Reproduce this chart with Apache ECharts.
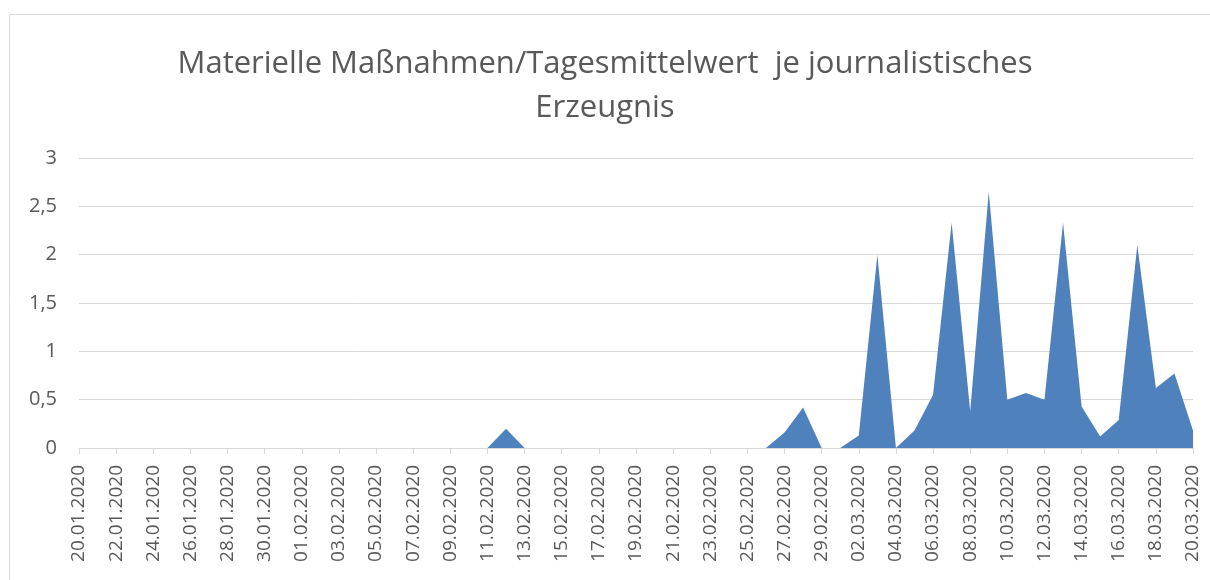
<!DOCTYPE html>
<html>
<head>
<meta charset="utf-8">
<script src="https://cdn.jsdelivr.net/npm/echarts@6/dist/echarts.min.js"></script>
<style>
  html, body { margin: 0; padding: 0; background: #fff; }
  #chart { width: 1210px; height: 580px; }
</style>
</head>
<body>
<div id="chart"></div>
<script>
// tage 20.01.2020 - 20.03.2020
const dates = [
  '20.01.2020','21.01.2020','22.01.2020','23.01.2020','24.01.2020','25.01.2020','26.01.2020','27.01.2020',
  '28.01.2020','29.01.2020','30.01.2020','31.01.2020',
  '01.02.2020','02.02.2020','03.02.2020','04.02.2020','05.02.2020','06.02.2020','07.02.2020','08.02.2020',
  '09.02.2020','10.02.2020','11.02.2020','12.02.2020','13.02.2020','14.02.2020','15.02.2020','16.02.2020',
  '17.02.2020','18.02.2020','19.02.2020','20.02.2020','21.02.2020','22.02.2020','23.02.2020','24.02.2020',
  '25.02.2020','26.02.2020','27.02.2020','28.02.2020','29.02.2020',
  '01.03.2020','02.03.2020','03.03.2020','04.03.2020','05.03.2020','06.03.2020','07.03.2020','08.03.2020',
  '09.03.2020','10.03.2020','11.03.2020','12.03.2020','13.03.2020','14.03.2020','15.03.2020','16.03.2020',
  '17.03.2020','18.03.2020','19.03.2020','20.03.2020'
]

// Januar (20.-31.)
const valuesJan = [0,0,0,0,0,0,0,0,0,0,0,0]
// Februar (01.-29.)
const valuesFeb = [
  0,0,0,0,0,0,0,0,0,0,
  0,0.2,0,0,0,0,0,0,0,0,
  0,0,0,0,0,0,0.16,0.42,0
]
// Maerz (01.-20.)
const valuesMar = [
  0,0.13,2.0,0,0.18,0.55,2.33,0.38,2.65,0.5,
  0.57,0.5,2.33,0.43,0.12,0.29,2.1,0.62,0.77,0.18
]
const values = valuesJan.concat(valuesFeb, valuesMar)

const yTicks = [0, 0.5, 1, 1.5, 2, 2.5, 3]

const chart = echarts.init(document.getElementById('chart'))

const textColor = '#595959'
const gridColor = '#d9d9d9'

chart.setOption({
  animation: false,
  backgroundColor: '#fff',
  graphic: [{
    type: 'rect',
    shape: { x: 9.5, y: 14.5, width: 1220, height: 600 },
    style: { fill: 'none', stroke: gridColor, lineWidth: 1 },
    silent: true
  }],
  title: {
    text: 'Materielle Maßnahmen/Tagesmittelwert  je journalistisches\nErzeugnis',
    left: 'center',
    top: 37,
    textStyle: {
      fontFamily: 'Open Sans',
      fontWeight: 'normal',
      fontSize: 31,
      color: textColor,
      lineHeight: 44
    }
  },
  grid: {
    left: 79,
    right: 17,
    top: 158,
    bottom: 132,
    containLabel: false
  },
  xAxis: {
    type: 'category',
    data: dates,
    boundaryGap: false,
    axisLine: { lineStyle: { color: gridColor, width: 1 } },
    axisTick: { interval: 1, length: 6, lineStyle: { color: gridColor } },
    axisLabel: {
      interval: 1,
      rotate: 90,
      margin: 17,
      fontFamily: 'Open Sans',
      fontSize: 19,
      color: textColor
    },
    splitLine: { show: false }
  },
  yAxis: {
    type: 'value',
    min: yTicks[0],
    max: yTicks[yTicks.length - 1],
    interval: 0.5,
    axisLine: { show: false },
    axisTick: { show: false },
    axisLabel: {
      margin: 22,
      fontFamily: 'Open Sans',
      fontSize: 20,
      color: textColor,
      formatter: v => String(v).replace('.', ',')
    },
    splitLine: { lineStyle: { color: gridColor, width: 1 } }
  },
  series: [{
    type: 'line',
    data: values,
    showSymbol: false,
    lineStyle: { width: 0 },
    areaStyle: { color: '#4f81bd', opacity: 1 },
    z: 3
  }]
})
</script>
</body>
</html>
